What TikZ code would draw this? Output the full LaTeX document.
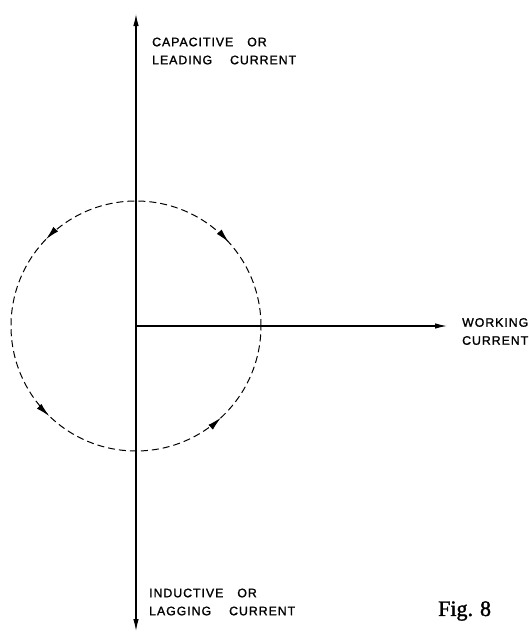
\documentclass[tikz,border=0pt]{standalone}
\usepackage{fontspec}
\usepackage{tikz}
\usetikzlibrary{arrows.meta,decorations.markings}
\newfontfamily\lettering[LetterSpace=8,FakeBold=1.5]{Liberation Sans}
\newfontfamily\figfont[FakeBold=1.5]{Liberation Serif}

\begin{document}
\begin{tikzpicture}[x=1pt, y=1pt, >={Latex[length=12pt,width=5.5pt]},
    axis/.style={line width=1.1pt},
    locus/.style={line width=1pt, dash pattern=on 7pt off 4pt},
    lbl/.style={anchor=west, inner sep=0pt, align=left,
      font=\lettering\fontsize{12.3}{18}\selectfont},
    fig/.style={anchor=west, inner sep=0pt, font=\figfont\fontsize{22}{22}\selectfont}]
  \useasboundingbox (-136,-307) rectangle (393,326);
  \coordinate (O) at (0,0);
  \coordinate (top) at (0,312);
  \coordinate (bot) at (0,-305);
  \coordinate (wrk) at (311,0);
  % axes
  \draw[axis, <->] (bot) -- (top);
  \draw[axis, ->] (O) -- (wrk);
  % current locus
  \draw[locus, decoration={markings,
      mark=at position 0.117 with {\arrowreversed{Latex[length=14pt,width=6.5pt]}},
      mark=at position 0.378 with {\arrow{Latex[length=14pt,width=6.5pt]}},
      mark=at position 0.628 with {\arrow{Latex[length=14pt,width=6.5pt]}},
      mark=at position 0.869 with {\arrow{Latex[length=14pt,width=6.5pt]}}},
    postaction={decorate}] (O) circle (125);
  % labels
  \node[lbl] (cap) at (16,275) {CAPACITIVE\hspace{14pt}OR\\LEADING\hspace{18pt}CURRENT};
  \node[lbl] (work) at (326,-5.5) {WORKING\\CURRENT};
  \node[lbl] (ind) at (13,-276) {INDUCTIVE\hspace{14pt}OR\\LAGGING\hspace{18pt}CURRENT};
  \node[fig] (fig8) at (302,-285) {Fig.\hspace{7pt}8};
\end{tikzpicture}
\end{document}
